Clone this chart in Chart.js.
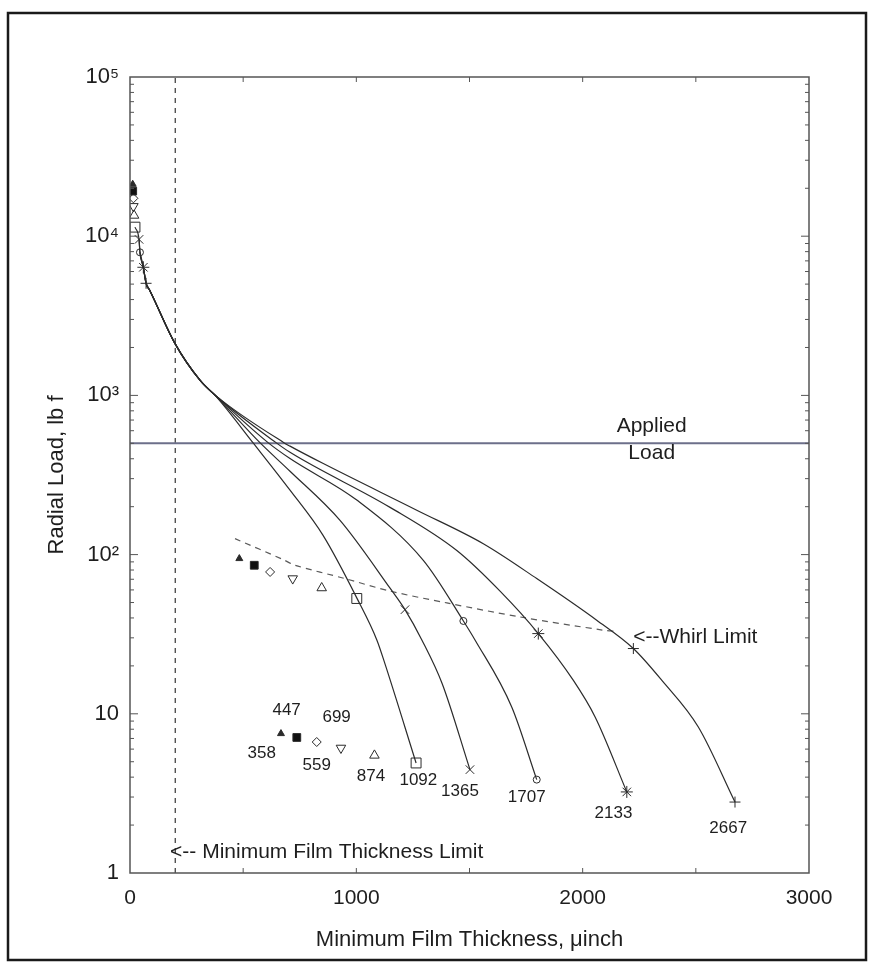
<!DOCTYPE html>
<html><head><meta charset="utf-8">
<script src="https://cdn.jsdelivr.net/npm/chart.js@4.4.0/dist/chart.umd.min.js"></script>
<style>
html,body{margin:0;padding:0;background:#fff;}
#wrap{position:relative;width:873px;height:971px;}
</style></head><body>
<div id="wrap"><canvas id="c"></canvas></div>
<script>
// ---------- data ----------
const speeds = ['358', '447', '559', '699', '874', '1092', '1365', '1707', '2133', '2667'];
// maximum-load points at the left (start of each curve)
const startFilm = [12, 12, 15, 15, 18, 22, 40, 44, 59, 71];
const startLoad = [21200, 19200, 17300, 15400, 13500, 11400, 9550, 7920, 6380, 5060];
// whirl-limit points
const whirlFilm = [483, 549, 619, 719, 847, 1002, 1215, 1473, 1804, 2224];
const whirlLoad = [94.4, 85.7, 77.8, 70.7, 61.7, 53, 45.1, 38.3, 31.9, 25.7];
// lowest-load points (labelled with speed)
const endFilm = [667, 737, 825, 932, 1080, 1264, 1502, 1797, 2195, 2673];
const endLoad = [7.51, 7.1, 6.65, 6.1, 5.48, 4.91, 4.46, 3.86, 3.23, 2.79];

// load-versus-film curves
const curve1092Film = [22, 40, 44, 59, 71, 88, 199, 309, 383, 543, 707, 853, 1003, 1091, 1127, 1264];
const curve1092Load = [11400, 9550, 7920, 6380, 5060, 4550, 2115, 1247, 975, 505, 254, 132, 53.1, 29.0, 20.5, 4.91];
const curve1365Film = [40, 44, 59, 71, 88, 199, 309, 383, 574, 707, 928, 1149, 1215, 1290, 1379, 1502];
const curve1365Load = [9550, 7920, 6380, 5060, 4550, 2115, 1247, 980, 505, 334, 164, 61.5, 45.1, 29, 15.5, 4.46];
const curve1707Film = [44, 59, 71, 88, 199, 309, 383, 610, 707, 1002, 1296, 1473, 1525, 1687, 1797];
const curve1707Load = [7920, 6380, 5060, 4550, 2115, 1247, 982, 505, 401, 220, 92, 38.3, 29, 11.0, 3.86];
const curve2133Film = [59, 71, 88, 199, 309, 383, 645, 707, 1149, 1444, 1635, 1804, 1959, 2055, 2195];
const curve2133Load = [6380, 5060, 4550, 2115, 1247, 984, 505, 439, 198, 106, 58.9, 31.9, 16.2, 9.55, 3.23];
const curve2667Film = [71, 88, 199, 309, 383, 680, 707, 854, 1267, 1561, 1797, 2062, 2224, 2350, 2511, 2673];
const curve2667Load = [5060, 4550, 2115, 1247, 986, 505, 480, 373, 190, 117, 70.7, 38.7, 25.7, 16.2, 8.26, 2.79];

// whirl limit dashed line
const whirlLineFilm = [464, 677, 729, 950, 1149, 1400, 1723, 2092, 2150];
const whirlLineLoad = [126, 93, 85.7, 70.7, 59, 49.7, 40.6, 33.5, 33];

// reference lines
const appliedLoad = 500;
const minFilmLimit = 200;
const xRange = [0, 3000];
const yRange = [1, 100000];

// ticks
const xTickValues = [0, 500, 1000, 1500, 2000, 2500, 3000];
const xTickLabels = ['0', '', '1000', '', '2000', '', '3000'];
const yTickValues = [1, 10, 100, 1000, 10000, 100000];
const yTickLabels = ['1', '10', '10\u00B2', '10\u00B3', '10\u2074', '10\u2075'];

// text annotations (data coordinates)
const notes = [
  {text: 'Applied', x: 2305, y: 640, align: 'center', size: 21},
  {text: 'Load', x: 2305, y: 435, align: 'center', size: 21},
  {text: '<--Whirl Limit', x: 2223, y: 30.4, align: 'left', size: 21},
  {text: '<-- Minimum Film Thickness Limit', x: 177, y: 1.36, align: 'left', size: 21}
];
const speedLabelFilm = [582, 692, 825, 913, 1065, 1274, 1458, 1753, 2136, 2643];
const speedLabelLoad = [5.62, 10.5, 4.75, 9.55, 4.07, 3.82, 3.27, 3.0, 2.36, 1.91];

// ---------- styles ----------
const ink = '#2b2b2b';
const markerStyles = [
  {pointStyle: 'triangle', r: 4, fill: ink, rot: 0},
  {pointStyle: 'rect', r: 5.5, fill: '#111', rot: 0},
  {pointStyle: 'rectRot', r: 4.5, fill: 'rgba(0,0,0,0)', rot: 0},
  {pointStyle: 'triangle', r: 5.5, fill: 'rgba(0,0,0,0)', rot: 180},
  {pointStyle: 'triangle', r: 5.5, fill: 'rgba(0,0,0,0)', rot: 0},
  {pointStyle: 'rect', r: 7, fill: 'rgba(0,0,0,0)', rot: 0},
  {pointStyle: 'crossRot', r: 6, fill: 'rgba(0,0,0,0)', rot: 0},
  {pointStyle: 'circle', r: 3.5, fill: 'rgba(0,0,0,0)', rot: 0},
  {pointStyle: 'star', r: 6, fill: 'rgba(0,0,0,0)', rot: 0},
  {pointStyle: 'cross', r: 5.5, fill: 'rgba(0,0,0,0)', rot: 0}
];

function zip(xs, ys) { return xs.map((x, i) => ({x: x, y: ys[i]})); }

const datasets = [];
const curves = [
  [curve1092Film, curve1092Load], [curve1365Film, curve1365Load], [curve1707Film, curve1707Load],
  [curve2133Film, curve2133Load], [curve2667Film, curve2667Load]
];
curves.forEach(c => datasets.push({
  data: zip(c[0], c[1]), showLine: true, pointRadius: 0, borderColor: ink, borderWidth: 1.2,
  cubicInterpolationMode: 'monotone', fill: false
}));
datasets.push({
  data: zip(whirlLineFilm, whirlLineLoad), showLine: true, pointRadius: 0, borderColor: '#5a5a5a',
  borderWidth: 1.2, borderDash: [6, 5], tension: 0.3, fill: false
});
datasets.push({
  data: [{x: xRange[0], y: appliedLoad}, {x: xRange[1], y: appliedLoad}], showLine: true, pointRadius: 0,
  borderColor: '#6c6f8a', borderWidth: 2
});
datasets.push({
  data: [{x: minFilmLimit, y: yRange[0]}, {x: minFilmLimit, y: yRange[1]}], showLine: true, pointRadius: 0,
  borderColor: '#444', borderWidth: 1.3, borderDash: [5, 5]
});
speeds.forEach((s, i) => {
  const m = markerStyles[i];
  datasets.push({
    data: [{x: startFilm[i], y: startLoad[i]}, {x: whirlFilm[i], y: whirlLoad[i]}, {x: endFilm[i], y: endLoad[i]}],
    showLine: false, pointStyle: m.pointStyle, pointRadius: m.r, pointRotation: m.rot,
    pointBackgroundColor: m.fill, pointBorderColor: ink, pointBorderWidth: 1, label: s
  });
});

const decor = {
  id: 'decor',
  beforeDraw(chart) {
    const ctx = chart.ctx;
    ctx.save();
    ctx.fillStyle = '#fff';
    ctx.fillRect(0, 0, chart.width, chart.height);
    ctx.strokeStyle = '#1a1a1a';
    ctx.lineWidth = 2.5;
    ctx.strokeRect(8, 13, 858, 947);
    ctx.restore();
  },
  afterDraw(chart) {
    const ctx = chart.ctx, a = chart.chartArea;
    const xs = chart.scales.x, ys = chart.scales.y;
    ctx.save();
    // frame
    ctx.strokeStyle = '#555';
    ctx.lineWidth = 1.5;
    ctx.strokeRect(a.left, a.top, a.right - a.left, a.bottom - a.top);
    // y ticks (inside, both sides)
    ctx.lineWidth = 1;
    for (let d = yRange[0]; d < yRange[1]; d *= 10) {
      for (let m = 1; m <= 9; m++) {
        const v = d * m;
        if (v <= yRange[0] || v >= yRange[1]) continue;
        const py = ys.getPixelForValue(v);
        const len = m === 1 ? 8 : 4;
        ctx.beginPath();
        ctx.moveTo(a.left, py); ctx.lineTo(a.left + len, py);
        ctx.moveTo(a.right, py); ctx.lineTo(a.right - len, py);
        ctx.stroke();
      }
    }
    // x ticks (inside, top and bottom)
    xTickValues.forEach(v => {
      if (v <= xRange[0] || v >= xRange[1]) return;
      const px = xs.getPixelForValue(v);
      ctx.beginPath();
      ctx.moveTo(px, a.bottom); ctx.lineTo(px, a.bottom - 5);
      ctx.moveTo(px, a.top); ctx.lineTo(px, a.top + 5);
      ctx.stroke();
    });
    // text notes
    ctx.fillStyle = '#1e1e1e';
    ctx.textBaseline = 'middle';
    notes.forEach(n => {
      ctx.font = n.size + 'px "Liberation Sans", Arial, sans-serif';
      ctx.textAlign = n.align;
      ctx.fillText(n.text, xs.getPixelForValue(n.x), ys.getPixelForValue(n.y));
    });
    ctx.font = '17px "Liberation Sans", Arial, sans-serif';
    ctx.textAlign = 'center';
    speeds.forEach((s, i) => {
      ctx.fillText(s, xs.getPixelForValue(speedLabelFilm[i]), ys.getPixelForValue(speedLabelLoad[i]));
    });
    ctx.restore();
  }
};

const fontFamily = '"Liberation Sans", Arial, sans-serif';
new Chart(document.getElementById('c'), {
  type: 'scatter',
  data: {datasets: datasets},
  options: {
    responsive: true, maintainAspectRatio: false, animation: false,
    layout: {padding: {top: 77, right: 64, left: 0, bottom: 0}},
    plugins: {legend: {display: false}, tooltip: {enabled: false}},
    scales: {
      x: {
        type: 'linear', min: xRange[0], max: xRange[1],
        afterFit: s => { s.height = 98; },
        afterBuildTicks: s => { s.ticks = xTickValues.map(v => ({value: v})); },
        grid: {display: false, drawTicks: false},
        border: {display: false},
        ticks: {padding: 13, color: '#1e1e1e', font: {family: fontFamily, size: 21}, maxRotation: 0,
          autoSkip: false, callback: (v) => xTickLabels[xTickValues.indexOf(v)] || ''},
        title: {display: true, text: 'Minimum Film Thickness, \u03BCinch', color: '#1e1e1e',
          font: {family: fontFamily, size: 22}, padding: {top: 0, bottom: 18}}
      },
      y: {
        type: 'logarithmic', min: yRange[0], max: yRange[1],
        afterFit: s => { s.width = 130; },
        afterBuildTicks: s => { s.ticks = yTickValues.map(v => ({value: v})); },
        grid: {display: false, drawTicks: false},
        border: {display: false},
        ticks: {padding: 11, color: '#1e1e1e', font: {family: fontFamily, size: 22}, autoSkip: false,
          callback: (v) => yTickLabels[yTickValues.indexOf(v)] || ''},
        title: {display: true, text: 'Radial Load, lb f', color: '#1e1e1e',
          font: {family: fontFamily, size: 22}, padding: {top: 44, bottom: 0}}
      }
    }
  },
  plugins: [decor]
});
</script>
</body></html>
